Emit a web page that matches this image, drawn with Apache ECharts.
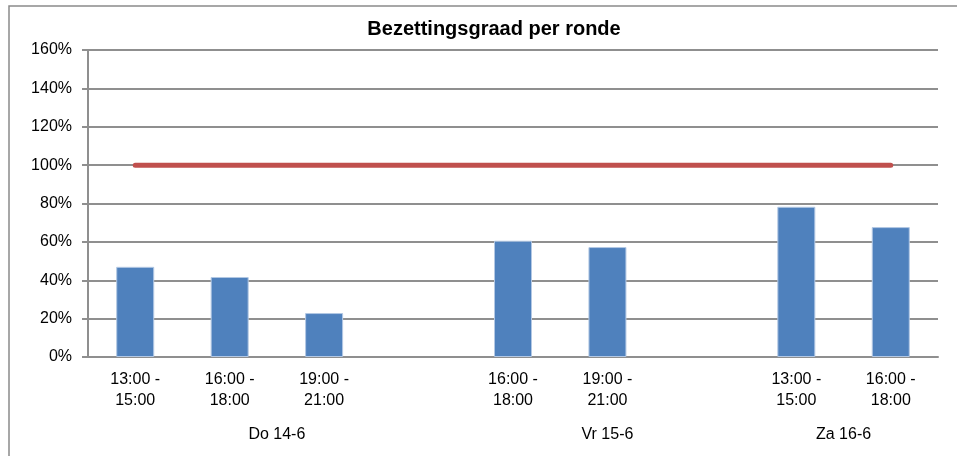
<!DOCTYPE html>
<html>
<head>
<meta charset="utf-8">
<script src="https://cdn.jsdelivr.net/npm/echarts@6/dist/echarts.min.js"></script>
<style>
  html, body { margin: 0; padding: 0; background: #fff; }
  #chart { width: 957px; height: 456px; }
</style>
</head>
<body>
<div id="chart"></div>
<script>
// rondes (lege plekken = scheiding tussen dagen)
const slots = ['13:00 -\n15:00', '16:00 -\n18:00', '19:00 -\n21:00', '',
  '16:00 -\n18:00', '19:00 -\n21:00', '',
  '13:00 -\n15:00', '16:00 -\n18:00'];
const occupancy = [47, 41.7, 22.9, null, 60.6, 57.3, null, 78.3, 67.7];
const capacity = [100, 100, 100, 100, 100, 100, 100, 100, 100];
const days = ['Do 14-6', 'Vr 15-6', 'Za 16-6'];
const daySpans = [4, 3, 2];
const yTicks = [0, 20, 40, 60, 80, 100, 120, 140, 160];

// midden van elke dag-groep in slot-eenheden
const dayCenters = {};
let start = 0;
days.forEach((d, i) => {
  dayCenters[start + daySpans[i] / 2] = d;
  start += daySpans[i];
});

const font = '"Liberation Sans", Arial, sans-serif';
const gridColor = '#8f8f8f';

const chart = echarts.init(document.getElementById('chart'));

chart.setOption({
  animation: false,
  title: {
    text: 'Bezettingsgraad per ronde',
    left: 494,
    textAlign: 'center',
    top: 19,
    padding: 0,
    textStyle: { fontFamily: font, fontSize: 20, fontWeight: 'bold', color: '#000' }
  },
  grid: { left: 88, right: 19, top: 50, bottom: 99 },
  xAxis: [{
    type: 'category',
    data: slots,
    axisLine: { lineStyle: { color: gridColor, width: 2 } },
    axisTick: { show: false },
    axisLabel: {
      interval: 0,
      margin: 12,
      color: '#000',
      fontFamily: font,
      fontSize: 16,
      lineHeight: 21
    }
  }, {
    type: 'value',
    position: 'bottom',
    offset: 62,
    min: 0,
    max: slots.length,
    interval: 0.5,
    axisLine: { show: false },
    axisTick: { show: false },
    splitLine: { show: false },
    axisLabel: {
      margin: 8,
      color: '#000',
      fontFamily: font,
      fontSize: 16,
      formatter: v => dayCenters[v] || ''
    }
  }],
  yAxis: {
    type: 'value',
    min: yTicks[0],
    max: yTicks[yTicks.length - 1],
    interval: 20,
    axisLine: { show: true, lineStyle: { color: gridColor, width: 2 } },
    axisTick: { show: true, length: 6, lineStyle: { color: gridColor, width: 2 } },
    splitLine: { lineStyle: { color: gridColor, width: 2 } },
    axisLabel: {
      margin: 16,
      color: '#000',
      fontFamily: font,
      fontSize: 16,
      formatter: '{value}%'
    }
  },
  series: [{
    type: 'bar',
    data: occupancy,
    barWidth: 38,
    itemStyle: { color: '#4F81BD', borderColor: '#b3c8e4', borderWidth: 1 }
  }, {
    type: 'line',
    data: capacity,
    symbol: 'none',
    lineStyle: { color: '#C0504D', width: 5, cap: 'round' },
    z: 3
  }],
  graphic: [{
    type: 'polyline',
    shape: { points: [[9, 456], [9, 6], [957, 6]] },
    style: { stroke: '#8a8a8a', lineWidth: 1.5, fill: null }
  }]
});
</script>
</body>
</html>
